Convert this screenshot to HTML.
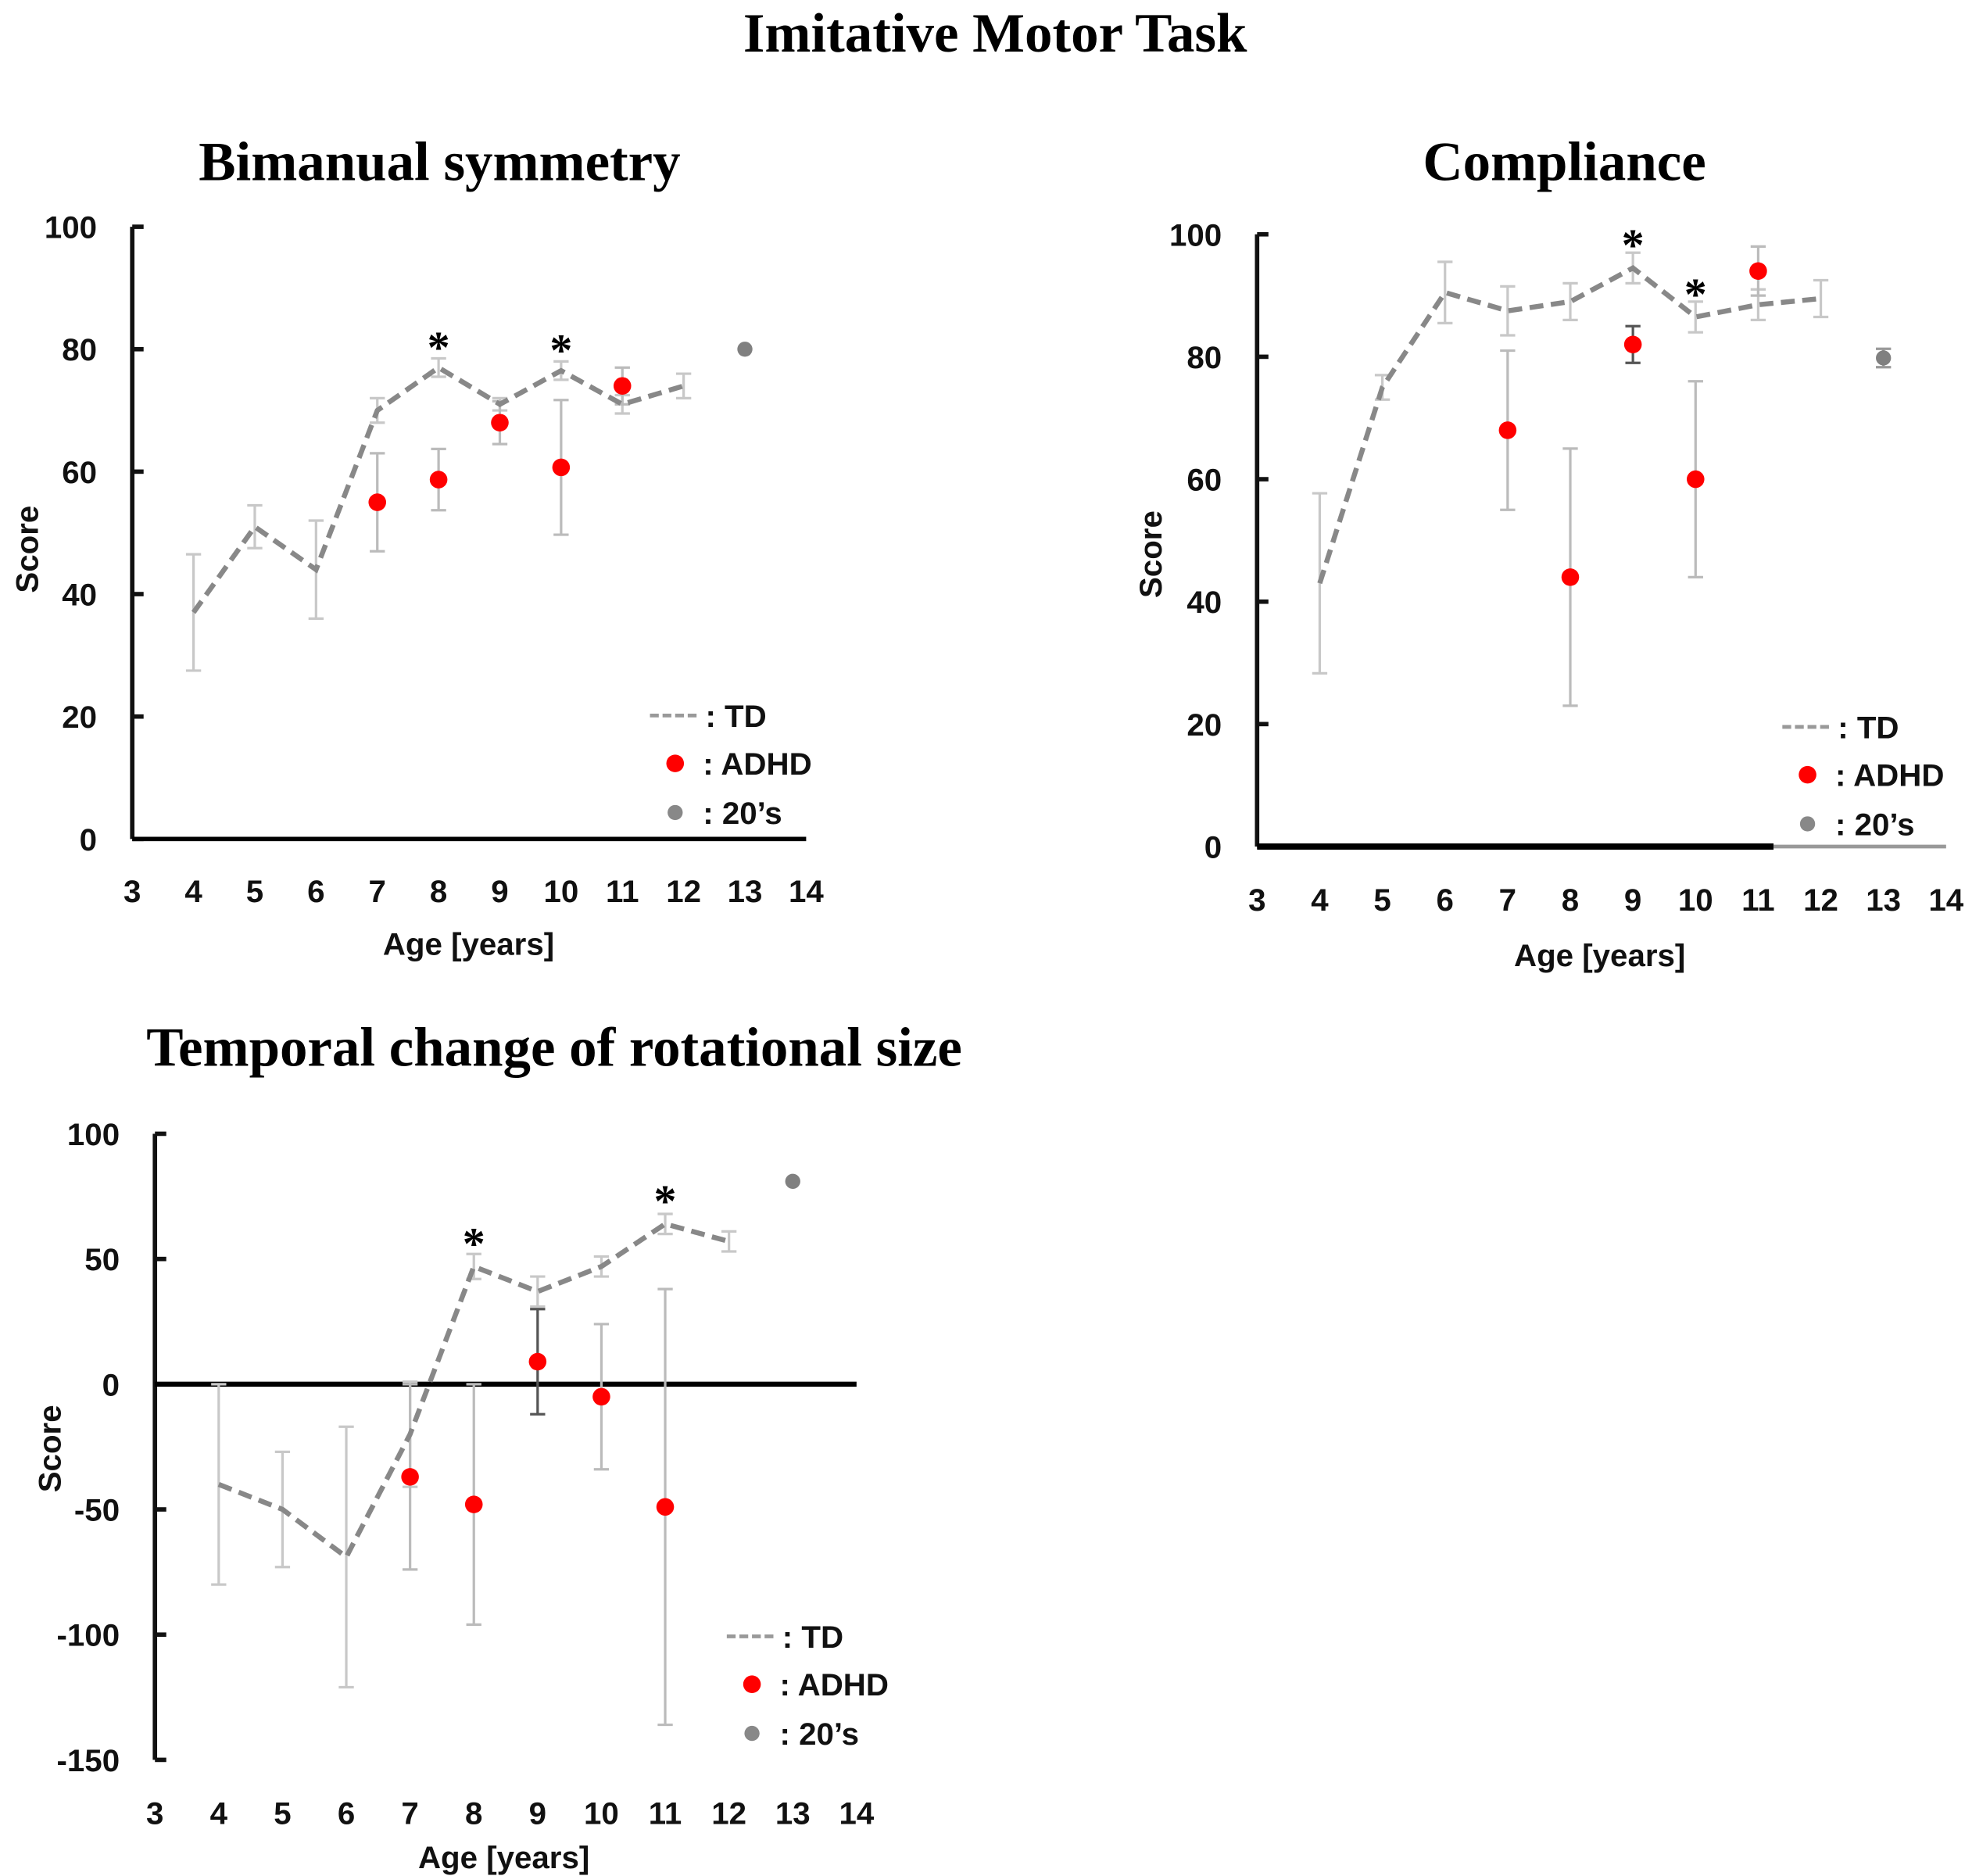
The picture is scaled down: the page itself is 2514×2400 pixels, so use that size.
<!DOCTYPE html>
<html><head><meta charset="utf-8"><style>
html,body{margin:0;padding:0;background:#fff}
svg{display:block}
.t{font-family:"Liberation Serif",serif;font-weight:bold;fill:#000}
.s{font-family:"Liberation Sans",sans-serif;font-weight:bold;fill:#111}
</style></head><body>
<svg id="fig" width="2514" height="2400" viewBox="0 0 1560 1489.2" preserveAspectRatio="none" xmlns="http://www.w3.org/2000/svg">
<text class="t" x="790" y="41" font-size="44" text-anchor="middle">Imitative Motor Task</text>
<text class="t" x="349" y="143" font-size="44" text-anchor="middle">Bimanual symmetry</text>
<text class="t" x="1242" y="143" font-size="44" text-anchor="middle">Compliance</text>
<text class="t" x="440" y="846" font-size="44" text-anchor="middle">Temporal change of rotational size</text>
</svg>
<script>
const ns="http://www.w3.org/2000/svg";
// ---- data ----
const ages=[4,5,6,7,8,9,10,11,12];
const bimTD=[37,51,44,70,77,71,76.5,71,74];
const bimTDerr=[9.5,3.5,8,2,1.5,1,1.5,1.5,2];
const bimADHDx=[7,8,9,10,11];
const bimADHD=[55,58.7,68,60.7,74];
const bimADHDerr=[8,5,3.5,11,3];
const bim20=[80];
const bim20err=[0];
const bimStars=[8,10];
const bimYTicks=[0,20,40,60,80,100];

const comTD=[43,75,90.5,87.5,89,94.5,86.5,88.5,89.5];
const comTDerr=[14.7,2,5,4,3,2.5,2.5,2.5,3];
const comADHDx=[7,8,9,10,11];
const comADHD=[68,44,82,60,94];
const comADHDerr=[13,21,3,16,4];
const com20=[79.8];
const com20err=[1.5];
const comStars=[9,10];
const comYTicks=[0,20,40,60,80,100];

const temTD=[-40,-50,-69,-20,47,37,47,64,57];
const temTDerr=[40,23,52,21,5,6,4,4,4];
const temADHDx=[7,8,9,10,11];
const temADHD=[-37,-48,9,-5,-49];
const temADHDerr=[37,48,21,29,87];
const tem20=[81];
const tem20err=[0];
const temStars=[8,11];
const temYTicks=[-150,-100,-50,0,50,100];
const xTicks=[3,4,5,6,7,8,9,10,11,12,13,14];

const svg=document.getElementById('fig');
function mk(tag,attrs,parent){const e=document.createElementNS(ns,tag);for(const k in attrs)e.setAttribute(k,attrs[k]);(parent||svg).appendChild(e);return e;}

function chart(c){
  const g=mk('g',{});
  
  
  const X=v=>c.x0+(v-3)*(c.x1-c.x0)/11;
  const Y=v=>c.yB+(v-c.ymin)*(c.yT-c.yB)/(c.ymax-c.ymin);
  const ya=mk('line',{x1:c.x0,y1:Y(c.ymax),x2:c.x0,y2:Y(c.ymin),stroke:'#111','stroke-width':3.5},g);
  
  c.yTicks.forEach(t=>{
    const tk=mk('line',{x1:c.x0,y1:Y(t),x2:c.x0+9,y2:Y(t),stroke:'#111','stroke-width':3.5},g);
    
    const tl=mk('text',{x:c.x0-28,y:Y(t)+9,'font-size':25,'text-anchor':'end',class:'s'},g);
    tl.textContent=t;
    
  });
  const xy=Y(c.xAxisAt);
  const xa=mk('line',{x1:c.x0,y1:xy,x2:c.xBlackEnd,y2:xy,stroke:'#000','stroke-width':c.xw},g);
  
  if(c.xBlackEnd<c.x1){const xg=mk('line',{x1:c.xBlackEnd,y1:xy,x2:c.x1,y2:xy,stroke:'#999','stroke-width':3},g);
    }
  xTicks.forEach(t=>{
    const tl=mk('text',{x:X(t),y:c.xLabY,'font-size':25,'text-anchor':'middle',class:'s'},g);
    tl.textContent=t;
    
  });
  const xt=mk('text',{x:c.xTitleX,y:c.xTitleY,'font-size':25,'text-anchor':'middle',class:'s'},g);
  xt.textContent='Age [years]';
  
  const yt=mk('text',{x:0,y:0,'font-size':25,'text-anchor':'middle',class:'s',transform:`translate(${c.yTitleX},${c.yTitleY}) rotate(-90)`},g);
  yt.textContent='Score';
  
  function eb(x,v,e,col,name){
    if(!e)return;
    const l=mk('line',{x1:X(x),y1:Y(v+e),x2:X(x),y2:Y(v-e),stroke:col,'stroke-width':2},g);
    
    [v+e,v-e].forEach(w=>{const cap=mk('line',{x1:X(x)-6,y1:Y(w),x2:X(x)+6,y2:Y(w),stroke:col,'stroke-width':2},g);
      });
  }
  ages.forEach((a,i)=>eb(a,c.td[i],c.tdErr[i],'#c8c8c8','td-error-bar'));
  c.adx.forEach((a,i)=>eb(a,c.ad[i],c.adErr[i],i===c.darkIdx?'#555':'#bbb','adhd-error-bar'));
  eb(13,c.v20[0],c.e20[0],'#999','adult-error-bar');
  const pl=mk('polyline',{points:ages.map((a,i)=>X(a)+','+Y(c.td[i])).join(' '),fill:'none',stroke:'#888','stroke-width':4,'stroke-dasharray':'11 6'},g);
  
  c.adx.forEach((a,i)=>{const d=mk('circle',{cx:X(a),cy:Y(c.ad[i]),r:7,fill:'#f00'},g);
    });
  const p2=mk('circle',{cx:X(13),cy:Y(c.v20[0]),r:6,fill:'#808080'},g);
  
  c.stars.forEach(s=>{const i=ages.indexOf(s);
    const st=mk('text',{x:X(s),y:Y(c.td[i])-c.starOff,'font-size':36,'text-anchor':'middle',class:'t'},g);
    st.textContent='*';});
  const lx=c.legX,ly=c.legY;
  const ll=mk('line',{x1:lx,y1:ly,x2:lx+40,y2:ly,stroke:'#999','stroke-width':3,'stroke-dasharray':'7 3'},g);
  
  const lt=mk('text',{x:lx+44,y:ly+9,'font-size':25,class:'s'},g);lt.textContent=': TD';
  
  const lc=mk('circle',{cx:lx+20,cy:ly+38,r:7,fill:'#f00'},g);
  
  const la=mk('text',{x:lx+42,y:ly+47,'font-size':25,class:'s'},g);la.textContent=': ADHD';
  
  const lg=mk('circle',{cx:lx+20,cy:ly+77,r:6,fill:'#888'},g);
  
  const l2=mk('text',{x:lx+42,y:ly+86,'font-size':25,class:'s'},g);l2.textContent=': 20’s';
  
}
chart({name:'bimanual-chart',x0:105,x1:640,yT:180,yB:666,ymin:0,ymax:100,yTicks:bimYTicks,xAxisAt:0,xBlackEnd:640,xw:3.5,
  xLabY:716,xTitleX:372,xTitleY:758,yTitleX:30,yTitleY:436,td:bimTD,tdErr:bimTDerr,adx:bimADHDx,ad:bimADHD,adErr:bimADHDerr,darkIdx:-1,
  v20:bim20,e20:bim20err,stars:bimStars,starOff:4,legX:516,legY:568});
chart({name:'compliance-chart',x0:998,x1:1545,yT:186,yB:672,ymin:0,ymax:100,yTicks:comYTicks,xAxisAt:0,xBlackEnd:1408,xw:5,
  xLabY:723,xTitleX:1270,xTitleY:767,yTitleX:922,yTitleY:440,td:comTD,tdErr:comTDerr,adx:comADHDx,ad:comADHD,adErr:comADHDerr,darkIdx:2,
  v20:com20,e20:com20err,stars:comStars,starOff:6,legX:1415,legY:577});
chart({name:'temporal-chart',x0:123,x1:680,yT:900,yB:1397,ymin:-150,ymax:100,yTicks:temYTicks,xAxisAt:0,xBlackEnd:680,xw:4,
  xLabY:1448,xTitleX:400,xTitleY:1483,yTitleX:48,yTitleY:1150,td:temTD,tdErr:temTDerr,adx:temADHDx,ad:temADHD,adErr:temADHDerr,darkIdx:2,
  v20:tem20,e20:tem20err,stars:temStars,starOff:6,legX:577,legY:1299});
</script>
</body></html>
